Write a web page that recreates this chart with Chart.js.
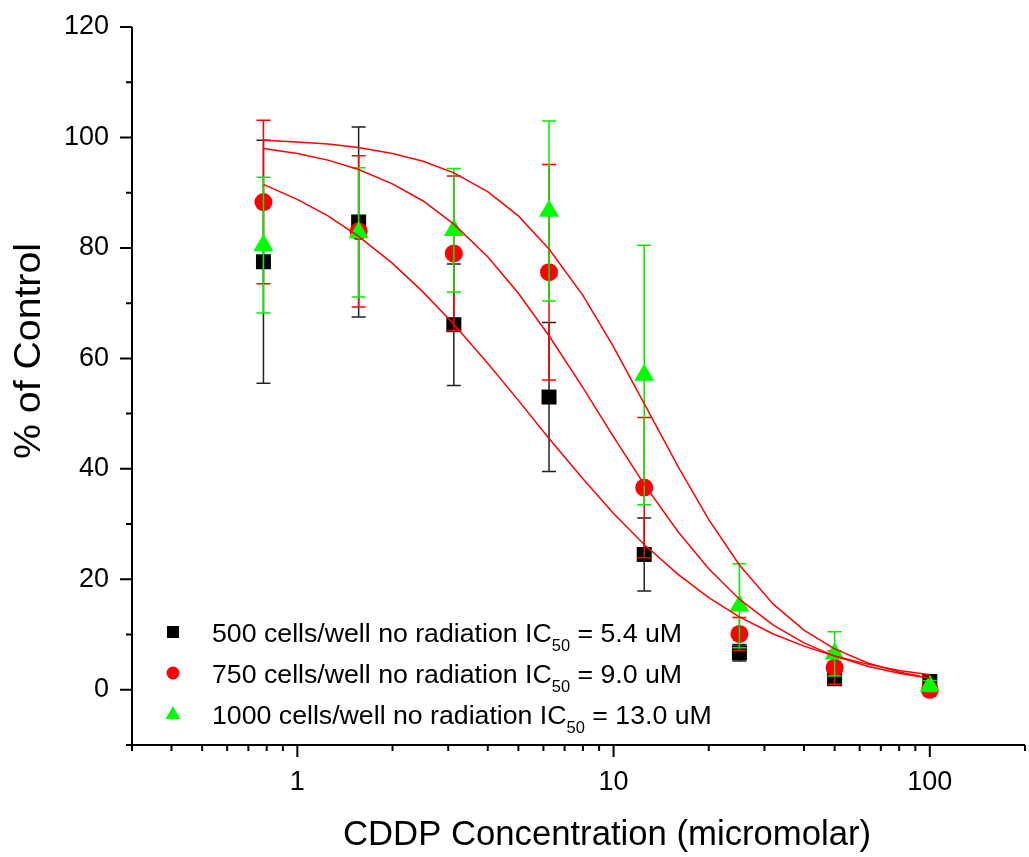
<!DOCTYPE html>
<html>
<head>
 <meta charset="utf-8" />
 <title>CDDP dose response</title>
 <script src="https://cdn.jsdelivr.net/npm/chart.js@4.4.1/dist/chart.umd.min.js"></script>
 <style>
  body { margin: 0; background: #fff; }
 </style>
</head>
<body>
 <canvas id="myChart" width="1029" height="857"></canvas>
 <script>
  // CDDP concentrations (micromolar)
  var conc = [0.78125, 1.5625, 3.125, 6.25, 12.5, 25, 50, 100];

  // % of control, mean and error per series
  var mean500 = [77.5, 84.7, 66.1, 53.0, 24.5, 6.7, 2.0, 1.5];
  var err500 = [22.0, 17.2, 11.0, 13.5, 6.6, 1.5, 1.0, 0.5];
  var mean750 = [88.3, 83.0, 79.0, 75.6, 36.6, 10.1, 4.0, 0.0];
  var err750 = [14.8, 13.7, 14.0, 19.5, 12.7, 3.0, 3.0, 0.5];
  var mean1000 = [80.5, 82.8, 83.2, 86.7, 57.0, 15.2, 6.5, 0.7];
  var err1000 = [12.3, 11.7, 11.2, 16.3, 23.5, 7.6, 4.0, 1.0];

  // fitted curves
  var fitX = [0.78125, 1, 1.25, 1.5625, 2, 2.5, 3.125, 4, 5, 6.25, 8, 10, 12.5, 16, 20, 25, 32, 40, 50, 64, 80, 100];
  var fit500 = [91.5, 88.8, 85.8, 82.1, 77.2, 72.0, 66.2, 59.1, 52.4, 45.5, 38.2, 31.9, 26.3, 20.9, 16.7, 13.2, 10.1, 7.9, 6.1, 4.6, 3.5, 2.7];
  var fit750 = [98.0, 97.1, 95.9, 94.2, 91.6, 88.5, 84.3, 78.4, 71.8, 64.1, 54.7, 45.8, 37.2, 28.6, 21.9, 16.4, 11.7, 8.5, 6.1, 4.2, 3.0, 2.1];
  var fit1000 = [99.5, 99.2, 98.8, 98.2, 97.1, 95.7, 93.6, 90.2, 85.8, 79.8, 71.4, 62.1, 51.8, 40.4, 30.8, 22.6, 15.5, 10.8, 7.4, 4.8, 3.2, 2.1];

  // legend and axis texts
  var seriesNames = ["500 cells/well no radiation", "750 cells/well no radiation", "1000 cells/well no radiation"];
  var ic50Values = ["5.4", "9.0", "13.0"];
  var xTitle = "CDDP Concentration (micromolar)";
  var yTitle = "% of Control";

  // axis ticks
  var yTicks = [0, 20, 40, 60, 80, 100, 120];
  var yMinor = [-10, 10, 30, 50, 70, 90, 110];
  var xTicks = [1, 10, 100];
  var xMinor = [0.3, 0.4, 0.5, 0.6, 0.7, 0.8, 0.9, 2, 3, 4, 5, 6, 7, 8, 9, 20, 30, 40, 50, 60, 70, 80, 90, 200];

  var FONT = "'Liberation Sans', Arial, sans-serif";
  Chart.defaults.font.family = FONT;
  Chart.defaults.color = "#000";

  function pts(xs, ys) {
   return xs.map(function (x, i) { return { x: x, y: ys[i] }; });
  }

  function curve(ys) {
   return {
    type: "line", data: pts(fitX, ys), showLine: true, borderColor: "#ff0000",
    borderWidth: 1.5, pointRadius: 0, fill: false, tension: 0, order: 0
   };
  }

  // fixed axis sizes, no label overhang padding
  function fixSize(w, h) {
   return function (s) {
    if (w) s.width = w;
    if (h) s.height = h;
    s.paddingTop = 0; s.paddingBottom = 0; s.paddingLeft = 0; s.paddingRight = 0;
   };
  }

  // error bars drawn under each series' own markers
  var errorBars = {
   id: "errorBars",
   beforeDatasetDraw: function (chart, args) {
    var ds = chart.data.datasets[args.index];
    if (!ds.errors) return;
    var ctx = chart.ctx, xs = chart.scales.x, ys = chart.scales.y;
    ctx.save();
    ctx.strokeStyle = ds.errorColor;
    ctx.lineWidth = 1.5;
    ds.data.forEach(function (p, i) {
     var px = xs.getPixelForValue(p.x);
     var top = ys.getPixelForValue(p.y + ds.errors[i]);
     var bot = ys.getPixelForValue(p.y - ds.errors[i]);
     ctx.beginPath();
     ctx.moveTo(px, top); ctx.lineTo(px, bot);
     ctx.moveTo(px - 7, top); ctx.lineTo(px + 7, top);
     ctx.moveTo(px - 7, bot); ctx.lineTo(px + 7, bot);
     ctx.stroke();
    });
    ctx.restore();
   }
  };

  // axis lines, major/minor tick marks and axis titles
  var axisDeco = {
   id: "axisDeco",
   afterDraw: function (chart) {
    var ctx = chart.ctx, a = chart.chartArea, xs = chart.scales.x, ys = chart.scales.y;
    ctx.save();
    ctx.strokeStyle = "#000";
    ctx.lineWidth = 2;
    ctx.beginPath();
    ctx.moveTo(a.left, a.top); ctx.lineTo(a.left, a.bottom); ctx.lineTo(a.right, a.bottom);
    yTicks.forEach(function (v) { var y = ys.getPixelForValue(v); ctx.moveTo(a.left, y); ctx.lineTo(a.left - 12, y); });
    yMinor.forEach(function (v) { var y = ys.getPixelForValue(v); ctx.moveTo(a.left, y); ctx.lineTo(a.left - 6, y); });
    xTicks.forEach(function (v) { var x = xs.getPixelForValue(v); ctx.moveTo(x, a.bottom); ctx.lineTo(x, a.bottom + 12); });
    xMinor.forEach(function (v) { var x = xs.getPixelForValue(v); ctx.moveTo(x, a.bottom); ctx.lineTo(x, a.bottom + 6); });
    ctx.stroke();

    ctx.fillStyle = "#000";
    ctx.textBaseline = "alphabetic";
    ctx.font = "34.7px " + FONT;
    ctx.textAlign = "left";
    ctx.fillText(xTitle, a.left + 211, a.bottom + 100);

    ctx.font = "36px " + FONT;
    ctx.textAlign = "center";
    var w = ctx.measureText(yTitle).width;
    ctx.translate(a.left - 92, a.top + 324);
    ctx.rotate(-Math.PI / 2);
    ctx.scale(216 / w, 1);
    ctx.fillText(yTitle, 0, 0);
    ctx.restore();
   }
  };

  // legend with IC50 subscript
  var subLegend = {
   id: "subLegend",
   afterDraw: function (chart) {
    var ctx = chart.ctx, a = chart.chartArea;
    var colors = ["#000000", "#ff0000", "#00ff00"];
    var rowY = [a.bottom - 113, a.bottom - 72, a.bottom - 31];
    var mx = a.left + 41, tx = a.left + 80;
    ctx.save();
    seriesNames.forEach(function (name, i) {
     var y = rowY[i];
     ctx.fillStyle = colors[i];
     ctx.beginPath();
     if (i === 0) ctx.rect(mx - 6, y - 6, 12, 12);
     else if (i === 1) ctx.arc(mx, y, 6.5, 0, Math.PI * 2);
     else { ctx.moveTo(mx, y - 8); ctx.lineTo(mx + 7.5, y + 5); ctx.lineTo(mx - 7.5, y + 5); ctx.closePath(); }
     ctx.fill();

     ctx.fillStyle = "#000";
     ctx.textBaseline = "alphabetic";
     ctx.font = "26.7px " + FONT;
     var t1 = name + " IC";
     ctx.fillText(t1, tx, y + 9.5);
     var x = tx + ctx.measureText(t1).width;
     ctx.font = "16.5px " + FONT;
     ctx.fillText("50", x, y + 18.5);
     x += ctx.measureText("50").width;
     ctx.font = "26.7px " + FONT;
     ctx.fillText(" = " + ic50Values[i] + " uM", x, y + 9.5);
    });
    ctx.restore();
   }
  };

  var chart = new Chart(document.getElementById("myChart"), {
   type: "scatter",
   data: {
    datasets: [
     curve(fit500), curve(fit750), curve(fit1000),
     {
      data: pts(conc, mean500), errors: err500, errorColor: "#222",
      pointStyle: "rect", pointRadius: 10.6, backgroundColor: "#000", borderColor: "#000", borderWidth: 0, order: 3
     },
     {
      data: pts(conc, mean750), errors: err750, errorColor: "#ff0000",
      pointStyle: "circle", pointRadius: 9, backgroundColor: "#ff0000", borderColor: "#ff0000", borderWidth: 0, order: 2
     },
     {
      data: pts(conc, mean1000), errors: err1000, errorColor: "#00ee00",
      pointStyle: "triangle", pointRadius: 11.5, backgroundColor: "#00ff00", borderColor: "#00ff00", borderWidth: 0, order: 1
     }
    ]
   },
   options: {
    responsive: false,
    animation: false,
    layout: { autoPadding: false, padding: { top: 27, right: 4, left: 0, bottom: 0 } },
    plugins: { legend: { display: false }, tooltip: { enabled: false } },
    scales: {
     x: {
      type: "logarithmic", min: 0.3, max: 200,
      grid: { display: false, drawTicks: false }, border: { display: false },
      afterBuildTicks: function (s) { s.ticks = xTicks.map(function (v) { return { value: v }; }); },
      afterFit: fixSize(0, 112),
      ticks: { font: { size: 27 }, padding: 21, maxRotation: 0, autoSkip: false, callback: function (v) { return String(v); } }
     },
     y: {
      min: -10, max: 120,
      grid: { display: false, drawTicks: false }, border: { display: false },
      afterBuildTicks: function (s) { s.ticks = yTicks.map(function (v) { return { value: v }; }); },
      afterFit: fixSize(132, 0),
      ticks: { font: { size: 27 }, padding: 23 }
     }
    }
   },
   plugins: [errorBars, axisDeco, subLegend]
  });
 </script>
</body>
</html>
